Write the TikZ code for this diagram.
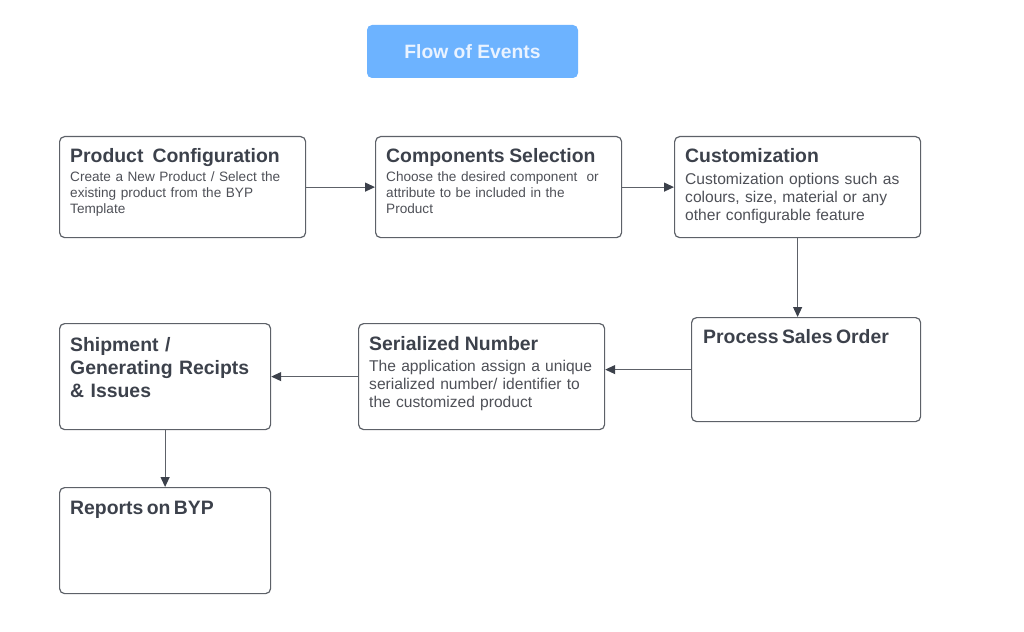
\documentclass[tikz,border=0pt]{standalone}
\usepackage{fontspec}
\setmainfont{Liberation Sans}
\usetikzlibrary{arrows.meta}
\definecolor{linegray}{HTML}{5D6168}
\definecolor{headgray}{HTML}{3C414B}
\definecolor{bodygray}{HTML}{4E5057}
\definecolor{titleblue}{HTML}{6DB3FF}
\definecolor{titletext}{HTML}{EAF3FF}
\newcommand{\stephead}[1]{{\fontsize{19.4}{23}\selectfont\bfseries\color{headgray}#1}}
\tikzset{
  stepbox/.style={draw=linegray,line width=1.2pt,rounded corners=5pt,anchor=north west,inner sep=0pt,minimum width=246pt,minimum height=101pt},
  steptext/.style={anchor=base west,align=left,inner sep=0pt,text=bodygray,text width=240pt},
  smallbody/.style={font=\fontsize{13.6}{15.8}\selectfont},
  bigbody/.style={font=\fontsize{15.6}{18.2}\selectfont},
  flow/.style={draw=linegray,line width=1.2pt,-{Triangle[length=10pt,width=9pt,color=headgray]}}
}
\begin{document}
\begin{tikzpicture}[x=1pt,y=-1pt]
\useasboundingbox (0,0) rectangle (1024,631);
\node[fill=titleblue,rounded corners=5pt,minimum width=211pt,minimum height=53pt,inner sep=0pt,text=titletext,font=\fontsize{19.3}{23}\selectfont\bfseries] (title) at (472.5,51.5) {Flow of Events};

\node[stepbox] (config) at (59,136) {};
\node[stepbox] (select) at (375,136) {};
\node[stepbox] (custom) at (674,136) {};
\node[stepbox,minimum width=229pt,minimum height=104pt] (order) at (691,317) {};
\node[stepbox,minimum height=106pt] (serial) at (358,323) {};
\node[stepbox,minimum width=211pt,minimum height=106pt] (ship) at (59,323) {};
\node[stepbox,minimum width=211pt,minimum height=106pt] (report) at (59,487) {};

\node[steptext,smallbody] (configtxt) at ([shift={(11,27)}]config.north west) {\stephead{Product~~Configuration}\\[3pt]Create a New Product / Select the\\existing product from the BYP\\Template};
\node[steptext,smallbody] (selecttxt) at ([shift={(11,27)}]select.north west) {\stephead{Components Selection}\\[3pt]Choose the desired component~~or\\attribute to be included in the\\Product};
\node[steptext,bigbody] (customtxt) at ([shift={(11,27)}]custom.north west) {\stephead{Customization}\\[3pt]Customization options such as\\colours, size, material or any\\other configurable feature};
\node[steptext] (ordertxt) at ([shift={(12,26)}]order.north west) {\stephead{Process Sales Order}};
\node[steptext,bigbody] (serialtxt) at ([shift={(11,27)}]serial.north west) {\stephead{Serialized Number}\\[3pt]The application assign a unique\\serialized number/ identifier to\\the customized product};
\node[steptext,font=\fontsize{19.4}{23}\selectfont] (shiptxt) at ([shift={(11,28)}]ship.north west) {\stephead{Shipment /}\\\stephead{Generating Recipts}\\\stephead{\& Issues}};
\node[steptext] (reporttxt) at ([shift={(11,27)}]report.north west) {\stephead{Reports on BYP}};

\draw[flow] (config.east) -- (select.west);
\draw[flow] (select.east) -- (custom.west);
\draw[flow] (custom.south) -- (custom.south |- order.north);
\draw[flow] (order.west) -- (order.west -| serial.east);
\draw[flow] (serial.west) -- (ship.east);
\draw[flow] (ship.south) -- (report.north);
\end{tikzpicture}
\end{document}
